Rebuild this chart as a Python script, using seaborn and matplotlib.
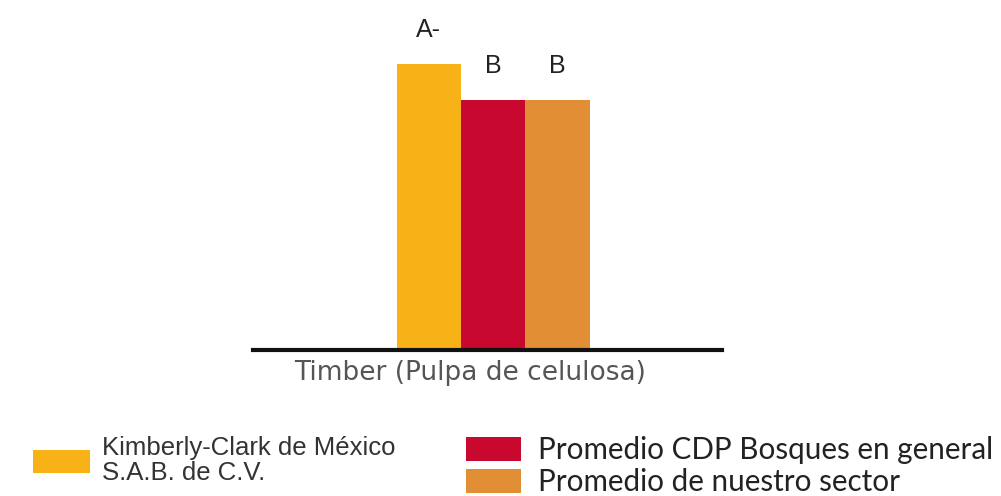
import pandas as pd
import matplotlib
matplotlib.use("Agg")
import matplotlib.pyplot as plt
import seaborn as sns

categories = ["Timber (Pulpa de celulosa)"]
groups = ["Kimberly-Clark de México\nS.A.B. de C.V.",
          "Promedio CDP Bosques en general",
          "Promedio de nuestro sector"]
ratings = ["A-", "B", "B"]
scores = [8, 7, 7]   # rating heights (A- vs B)
colors = ["#F7B218", "#C8082F", "#E28E35"]

df = pd.DataFrame({"cat": categories * 3, "grupo": groups, "score": scores})

sns.set_style("white")
plt.rcParams["font.family"] = ["Liberation Sans", "DejaVu Sans"]

fig = plt.figure(figsize=(10.01, 4.96), dpi=100)
ax = fig.add_axes([253 / 1001, 146 / 496, 469 / 1001, 330 / 496])

sns.barplot(data=df, x="cat", y="score", hue="grupo", palette=colors,
            width=0.8, gap=0, linewidth=0, saturation=1, ax=ax)

for cont, r in zip(ax.containers, ratings):
    ax.bar_label(cont, labels=[r], padding=16, fontsize=18, color="#222222",
                 family=["Liberation Sans", "DejaVu Sans"])

ax.set_xlim(-0.995, 0.949)
ax.set_ylim(0, 9.23)
sns.despine(ax=ax, left=True)
ax.spines["bottom"].set_linewidth(3)
ax.spines["bottom"].set_color("#111111")
ax.set_yticks([])
ax.set_xticks([0])
ax.set_xticklabels([""])
ax.tick_params(axis="x", length=3, width=1, color="#444444")
ax.set_ylabel("")
ax.set_xlabel("Timber (Pulpa de celulosa)", fontsize=19, color="#555555",
              family=["DejaVu Sans"])
ax.xaxis.set_label_coords(0.463, -0.03)
ax.xaxis.label.set_va("top")

handles, labels = ax.get_legend_handles_labels()
ax.get_legend().remove()

fs1 = 18.5 * 100 / 72
leg1 = fig.legend([handles[0]], [labels[0]], loc="upper left",
                  bbox_to_anchor=(33 / 1001, 1 - 436 / 496), frameon=False,
                  borderpad=0, borderaxespad=0,
                  handlelength=57 / fs1, handleheight=26 / fs1,
                  handletextpad=12 / fs1,
                  prop={"family": ["Liberation Sans", "DejaVu Sans"], "size": 18.5})
for t in leg1.get_texts():
    t.set_color("#333333")
    t.set_linespacing(1.05)

fs2 = 21.3 * 100 / 72
leg2 = fig.legend(handles[1:], labels[1:], loc="upper left",
                  bbox_to_anchor=(466 / 1001, 1 - 436 / 496), frameon=False,
                  borderpad=0, borderaxespad=0, labelspacing=0.15,
                  handlelength=55 / fs2, handleheight=26 / fs2,
                  handletextpad=17 / fs2,
                  prop={"family": ["Lato", "DejaVu Sans"], "size": 21.3})
for t in leg2.get_texts():
    t.set_color("#222222")

fig.savefig("out.png", dpi=100)
